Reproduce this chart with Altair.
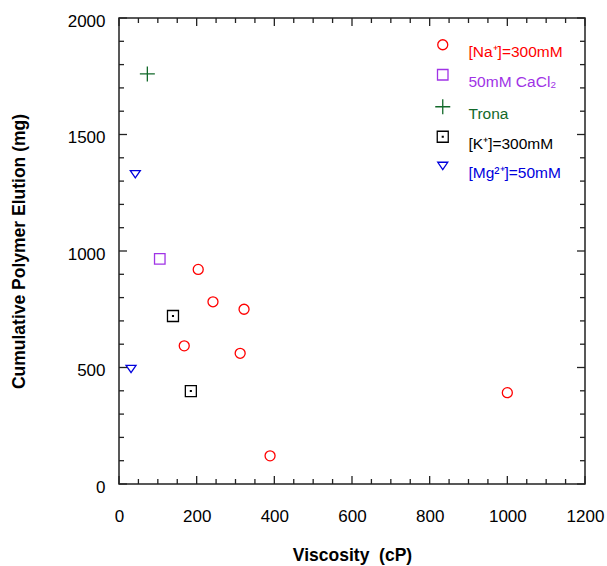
import altair as alt
import pandas as pd

# ---- data ----
series_names = ["[Na⁺]=300mM", "50mM CaCl₂", "Trona", "[K⁺]=300mM", "[Mg²⁺]=50mM"]
series_colors = ["#ff0000", "#a033e6", "#12692a", "#000000", "#0000dd"]

na_visc = [204, 242, 322, 168, 312, 389, 1000]
na_elut = [921, 782, 750, 593, 561, 121, 392]
ca_visc = [105]
ca_elut = [966]
trona_visc = [73]
trona_elut = [1760]
k_visc = [139, 185]
k_elut = [721, 399]
mg_visc = [42, 31]
mg_elut = [1330, 494]

x_major = [0, 200, 400, 600, 800, 1000, 1200]
x_minor = [50, 100, 150, 250, 300, 350, 450, 500, 550, 650, 700, 750,
           850, 900, 950, 1050, 1100, 1150]
y_major = [0, 500, 1000, 1500, 2000]
y_minor = [100, 200, 300, 400, 600, 700, 800, 900, 1100, 1200, 1300, 1400,
           1600, 1700, 1800, 1900]

rows = []
for name, xs, ys in [
    (series_names[0], na_visc, na_elut),
    (series_names[1], ca_visc, ca_elut),
    (series_names[2], trona_visc, trona_elut),
    (series_names[3], k_visc, k_elut),
    (series_names[4], mg_visc, mg_elut),
]:
    for a, b in zip(xs, ys):
        rows.append({"series": name, "visc": a, "elut": b})
df = pd.DataFrame(rows)

W, H = 466, 466
FONT = "Liberation Sans"
TC = "#222222"
MAJ_SIZE, MIN_SIZE = 64, 25   # symbol areas -> tick lengths of 8 px and 5 px

shapes = [
    "circle",
    "M-1.05,-1.05L1.05,-1.05L1.05,1.05L-1.05,1.05Z",
    "M-1.5,0L1.5,0M0,-1.5L0,1.5",
    "M-1.1,-1.1L1.1,-1.1L1.1,1.1L-1.1,1.1Z M-0.08,-0.08L0.08,-0.08L0.08,0.08L-0.08,0.08Z",
    "M-1,-0.7L1,-0.7L0,0.75Z",
]

xscale = alt.Scale(domain=[0, 1200], nice=False, zero=False)
yscale = alt.Scale(domain=[0, 2000], nice=False, zero=False)

points = alt.Chart(df).mark_point(filled=False, size=100, strokeWidth=1.3, opacity=1).encode(
    x=alt.X("visc:Q", scale=xscale,
            axis=alt.Axis(title="Viscosity\u00a0\u00a0(cP)", values=x_major, format="d",
                          ticks=False, domain=False,
                          grid=False, labelPadding=24, labelFontSize=17, labelFont=FONT,
                          labelColor="black", titleFont=FONT, titleFontSize=17.5,
                          titleFontWeight="bold", titleColor="black",
                          titleBaseline="alphabetic", titleY=76, labelFlush=False)),
    y=alt.Y("elut:Q", scale=yscale,
            axis=alt.Axis(title="Cumulative Polymer Elution (mg)", values=y_major, format="d",
                          ticks=False,
                          domain=False, grid=False, labelPadding=14, labelFontSize=17,
                          labelFont=FONT, labelColor="black", labelOffset=3,
                          titleFont=FONT, titleFontSize=17.5, titleFontWeight="bold",
                          titleColor="black", titleBaseline="alphabetic", titleX=-95,
                          labelFlush=False)),
    color=alt.Color("series:N",
                    scale=alt.Scale(domain=series_names, range=series_colors),
                    legend=alt.Legend(title=None, orient="none", legendX=316, legendY=19,
                                      padding=0, rowPadding=5, labelOffset=18,
                                      labelFontSize=15.5, labelFont=FONT, labelBaseline="top",
                                      symbolSize=100,
                                      symbolStrokeWidth=1.3, symbolFillColor="transparent",
                                      labelColor=alt.ExprRef("scale('color', datum.value)"))),
    shape=alt.Shape("series:N", scale=alt.Scale(domain=series_names, range=shapes)),
)

# inward frame ticks drawn as short line-segment symbols anchored on the frame
x_ticks = alt.Data(values=[{"v": v, "s": MAJ_SIZE} for v in x_major] +
                   [{"v": v, "s": MIN_SIZE} for v in x_minor])
y_ticks = alt.Data(values=[{"v": v, "s": MAJ_SIZE} for v in y_major] +
                   [{"v": v, "s": MIN_SIZE} for v in y_minor])

size_enc = alt.Size("s:Q", scale=None, legend=None)


def tick_layer(data, path, **enc):
    return alt.Chart(data).mark_point(shape=path, filled=False, color=TC, strokeWidth=1.3,
                                      opacity=1).encode(size=size_enc, **enc)


tick_layers = [
    tick_layer(x_ticks, "M0,0L0,-2", x=alt.X("v:Q", scale=xscale), y=alt.value(H)),
    tick_layer(x_ticks, "M0,0L0,2", x=alt.X("v:Q", scale=xscale), y=alt.value(0)),
    tick_layer(y_ticks, "M0,0L2,0", y=alt.Y("v:Q", scale=yscale), x=alt.value(0)),
    tick_layer(y_ticks, "M0,0L-2,0", y=alt.Y("v:Q", scale=yscale), x=alt.value(W)),
]

chart = alt.layer(points, *tick_layers).resolve_scale(x="shared", y="shared").properties(
    width=W, height=H,
    autosize=alt.AutoSizeParams(type="none"),
    padding={"left": 119, "top": 18, "right": 22, "bottom": 82},
    background="white",
).configure_view(stroke="#222222", strokeWidth=1.5)

chart.save("out.html", embed_options={"renderer": "svg", "actions": False})
